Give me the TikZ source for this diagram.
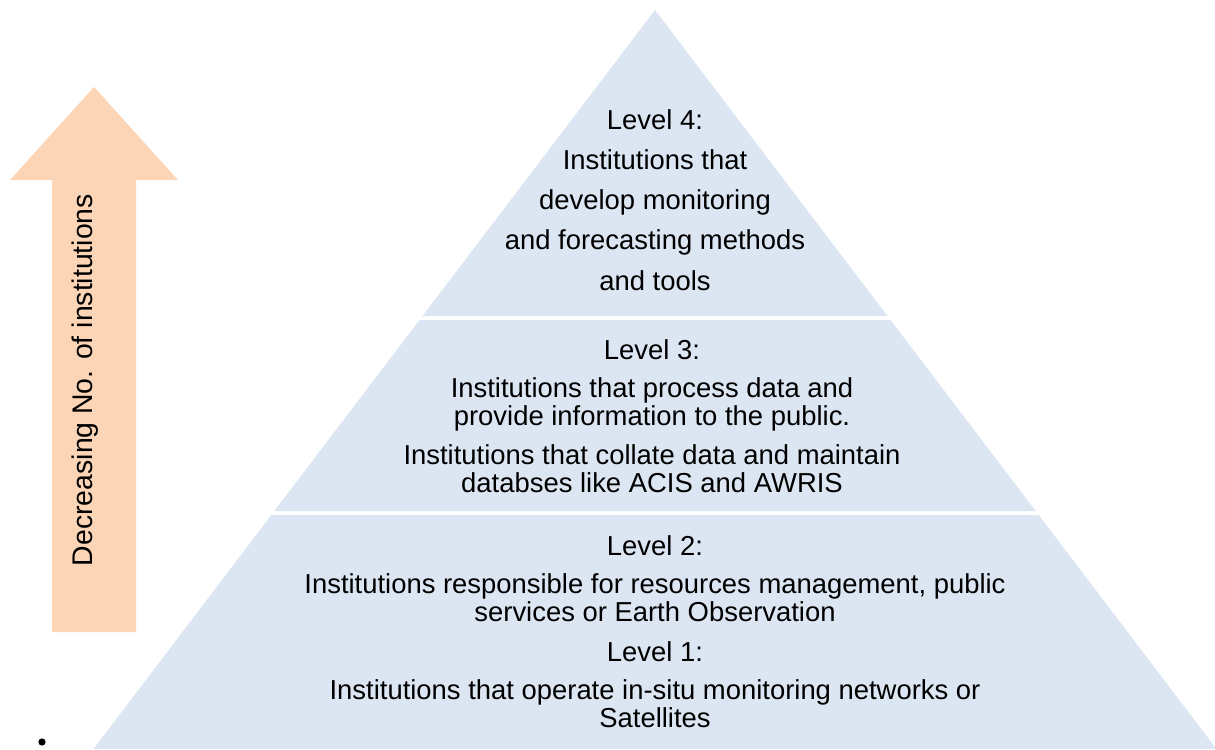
\documentclass[tikz,border=0pt]{standalone}
\usepackage{fontspec}
\setmainfont{Liberation Sans}
\usepackage{tikz}
\usetikzlibrary{calc}
\definecolor{bandblue}{HTML}{DCE6F2}
\definecolor{arrowpeach}{HTML}{FBD5B5}

\begin{document}
\begin{tikzpicture}[x=0.025cm, y=-0.025cm,
band/.style={fill=bandblue},
level/.style={align=center, anchor=base, inner sep=0pt, font=\fontsize{19.5}{19.9}\selectfont},
toplevel/.style={level, font=\fontsize{19.5}{28.45}\selectfont}]
\useasboundingbox (0,0) rectangle (1215,749);
\coordinate (apex) at (655,10);
\fill[band] (apex) -- (887.5,316) -- (422.5,316) -- cycle;
\fill[band] (419.5,320) -- (890.5,320) -- (1035.7,511) -- (274.3,511) -- cycle;
\fill[band] (271.3,515) -- (1038.7,515) -- (1216.5,749) -- (93.5,749) -- cycle;
\fill[arrowpeach] (52,632) -- (52,180) -- (10,180) -- (94,87) -- (178,180) -- (136,180) -- (136,632) -- cycle;
\node[rotate=90, inner sep=0pt, font=\fontsize{20.2}{24}\selectfont] (arrowtext) at (85,380) {Decreasing No. of institutions};
\node[toplevel] (lvl4) at (655,290) {Level 4:\\Institutions that\\develop monitoring\\and forecasting methods\\and tools};
\node[level] (lvl3) at (652,492) {Level 3:\\[0.25cm]Institutions that process data and\\provide information to the public.\\[0.27cm]Institutions that collate data and maintain\\databses like ACIS and AWRIS};
\node[level] (lvl2) at (655,727) {Level 2:\\[0.25cm]Institutions responsible for resources management, public\\services or Earth Observation\\[0.3cm]Level 1:\\[0.25cm]Institutions that operate in-situ monitoring networks or\\Satellites};
\fill (42,742) circle[radius=0.09cm];
\end{tikzpicture}
\end{document}
